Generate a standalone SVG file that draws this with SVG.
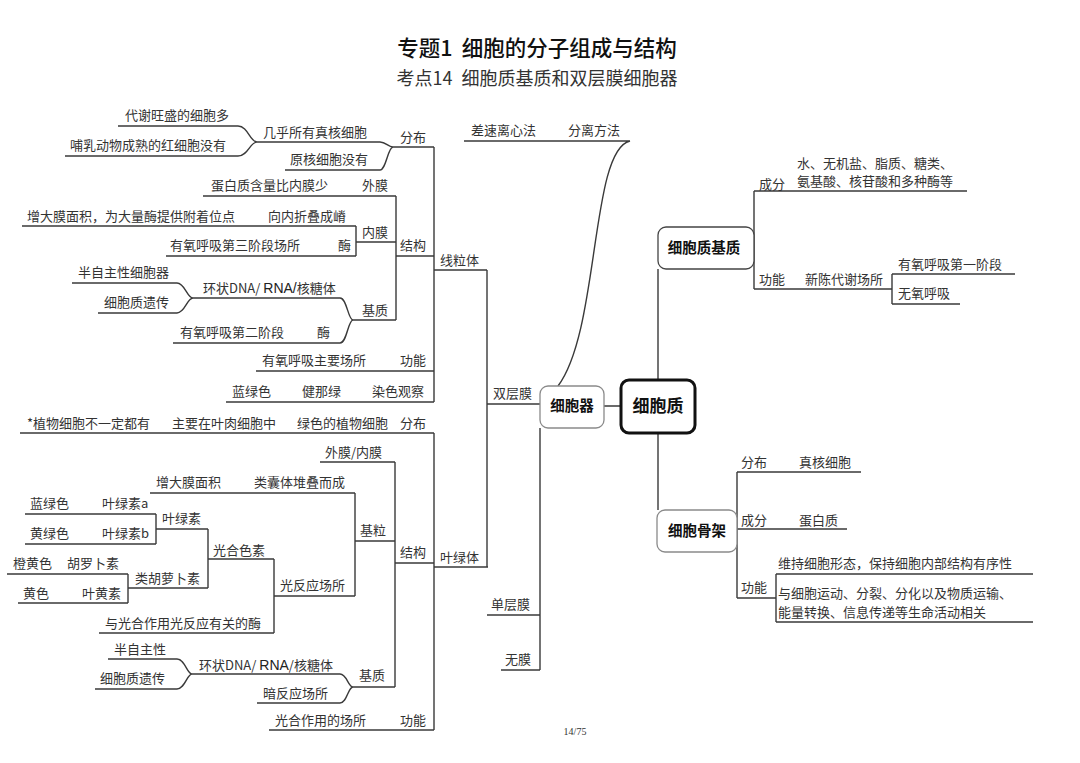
<svg xmlns="http://www.w3.org/2000/svg" width="1080" height="763" viewBox="0 0 1080 763">
<style>
.t{font-family:"Noto Sans CJK SC","Noto Sans",sans-serif;font-size:13px;fill:#333}
.n{font-family:"Noto Sans CJK SC","Noto Sans",sans-serif;font-weight:bold;fill:#111;text-anchor:middle}
.l{fill:none;stroke:#3a3a3a;stroke-width:1.4}
.box{fill:#fff;stroke:#8a8a8a;stroke-width:1.3}
.sans{font-family:"Liberation Sans",sans-serif;font-size:14px;fill:#222}
</style>
<rect width="1080" height="763" fill="#fff"/>
<g id="title">
<text x="537" y="56" style="font-family:'Noto Sans CJK SC',sans-serif;font-size:21.5px;font-weight:500;fill:#111" text-anchor="middle">专题1<tspan dx="9">细胞的分子组成与结构</tspan></text>
<text x="537" y="85" style="font-family:'Noto Sans CJK SC',sans-serif;font-size:18px;fill:#333" text-anchor="middle">考点14<tspan dx="9">细胞质基质和双层膜细胞器</tspan></text>
</g>
<g id="connectors">
<path class="l" d="M604,406 H621 M658,269 V380 M658,433 V510"/>
<path class="l" d="M464,141 H630 C590,150 600,330 558,386"/>
<path class="l" d="M487,270 V567 M487,404 H540 M540,428 V670 M487,615 H540 M501,670 H540"/>
<path class="l" d="M434,270 H487 M434,147 V402"/>
<path class="l" d="M118,126 H238 C248,126 250,142 257,142 M65,156 H238 C248,156 250,142 257,142"/>
<path class="l" d="M257,142 H380 C386,142 388,147 393,147 M285,170 H380 C386,170 388,147 393,147 M393,147 H434"/>
<path class="l" d="M396,256 H434 M396,196 V320 M203,196 H396"/>
<path class="l" d="M356,226 V256 M22,226 H356 M166,256 H356 M356,242 H396"/>
<path class="l" d="M353,320 H396 M193,298 H340 C347,298 348,320 353,320 M173,343 H340 C347,343 348,320 353,320"/>
<path class="l" d="M72,283 H177 C185,283 187,298 193,298 M98,313 H177 C185,313 187,298 193,298"/>
<path class="l" d="M256,371 H434 M226,402 H434"/>
<path class="l" d="M20,433 H434 M434,433 V730 M434,567 H488 M395,563 H434 M395,462 V687 M320,462 H395"/>
<path class="l" d="M355,541 H395 M355,493 V596 M150,493 H355"/>
<path class="l" d="M274,596 H355 M274,559 V633 M99,633 H274"/>
<path class="l" d="M208,559 H274 M208,529 V588 M156,529 H208 M156,514 V544 M25,514 H156 M25,544 H156"/>
<path class="l" d="M128,588 H208 M128,574 V603 M7,574 H128 M18,603 H128"/>
<path class="l" d="M353,687 H395 M192,674 H340 C347,674 348,687 353,687 M257,703 H340 C347,703 348,687 353,687"/>
<path class="l" d="M108,659 H177 C185,659 187,674 192,674 M95,689 H177 C185,689 187,674 192,674"/>
<path class="l" d="M269,730 H434"/>
<path class="l" d="M754,191 V289 M754,191 H967 M754,289 H892 M892,274 V304 M892,274 H1015 M892,304 H960"/>
<path class="l" d="M737,472 V598 M737,472 H861 M737,529 H847 M737,598 H776 M776,574 V622 M776,574 H1033 M776,622 H1033"/>
</g>
<g id="node-xibaozhi">
<rect x="621" y="380" width="74" height="53" rx="8" fill="#fff" stroke="#111" stroke-width="3"/>
<text class="n" x="658" y="412" font-size="17">细胞质</text>
</g>
<g id="node-xibaoqi">
<rect class="box" x="540" y="386" width="64" height="42" rx="8"/>
<text class="n" x="572" y="411" font-size="14.5">细胞器</text>
</g>
<g id="node-jizhi">
<rect class="box" x="658" y="227" width="96" height="42" rx="8" style="stroke:#444"/>
<text class="n" x="704" y="253" font-size="14.5">细胞质基质</text>
</g>
<g id="node-gujia">
<rect class="box" x="657" y="510" width="80" height="42" rx="8"/>
<text class="n" x="697" y="536" font-size="14.5">细胞骨架</text>
</g>
<g id="center-labels">
<text class="t" x="471" y="135">差速离心法</text>
<text class="t" x="568" y="135">分离方法</text>
<text class="t" x="493" y="398">双层膜</text>
<text class="t" x="491" y="609">单层膜</text>
<text class="t" x="505" y="664">无膜</text>
<text class="t" x="440" y="265">线粒体</text>
<text class="t" x="440" y="562">叶绿体</text>
</g>
<g id="mitochondria">
<text class="t" x="125" y="120">代谢旺盛的细胞多</text>
<text class="t" x="70" y="150">哺乳动物成熟的红细胞没有</text>
<text class="t" x="263" y="137">几乎所有真核细胞</text>
<text class="t" x="290" y="164">原核细胞没有</text>
<text class="t" x="400" y="142">分布</text>
<text class="t" x="211" y="190">蛋白质含量比内膜少</text>
<text class="t" x="362" y="190">外膜</text>
<text class="t" x="27" y="221">增大膜面积，为大量酶提供附着位点</text>
<text class="t" x="268" y="221">向内折叠成嵴</text>
<text class="t" x="362" y="237">内膜</text>
<text class="t" x="170" y="250">有氧呼吸第三阶段场所</text>
<text class="t" x="338" y="250">酶</text>
<text class="t" x="400" y="250">结构</text>
<text class="t" x="78" y="277">半自主性细胞器</text>
<text class="t" x="203" y="293">环状DNA/ <tspan class="sans">RNA/</tspan>核糖体</text>
<text class="t" x="104" y="307">细胞质遗传</text>
<text class="t" x="362" y="315">基质</text>
<text class="t" x="180" y="337">有氧呼吸第二阶段</text>
<text class="t" x="317" y="337">酶</text>
<text class="t" x="262" y="365">有氧呼吸主要场所</text>
<text class="t" x="400" y="365">功能</text>
<text class="t" x="232" y="396">蓝绿色</text>
<text class="t" x="302" y="396">健那绿</text>
<text class="t" x="372" y="396">染色观察</text>
</g>
<g id="chloroplast">
<text class="t" x="27" y="428">*植物细胞不一定都有</text>
<text class="t" x="172" y="428">主要在叶肉细胞中</text>
<text class="t" x="297" y="428">绿色的植物细胞</text>
<text class="t" x="400" y="428">分布</text>
<text class="t" x="325" y="457">外膜/内膜</text>
<text class="t" x="156" y="487">增大膜面积</text>
<text class="t" x="254" y="487">类囊体堆叠而成</text>
<text class="t" x="30" y="508">蓝绿色</text>
<text class="t" x="102" y="508">叶绿素a</text>
<text class="t" x="162" y="523">叶绿素</text>
<text class="t" x="360" y="535">基粒</text>
<text class="t" x="30" y="538">黄绿色</text>
<text class="t" x="102" y="538">叶绿素b</text>
<text class="t" x="213" y="555">光合色素</text>
<text class="t" x="400" y="557">结构</text>
<text class="t" x="13" y="568">橙黄色</text>
<text class="t" x="67" y="568">胡罗卜素</text>
<text class="t" x="135" y="583">类胡萝卜素</text>
<text class="t" x="280" y="590">光反应场所</text>
<text class="t" x="23" y="598">黄色</text>
<text class="t" x="82" y="598">叶黄素</text>
<text class="t" x="105" y="628">与光合作用光反应有关的酶</text>
<text class="t" x="114" y="654">半自主性</text>
<text class="t" x="199" y="670">环状DNA/ <tspan class="sans">RNA</tspan>/核糖体</text>
<text class="t" x="359" y="680">基质</text>
<text class="t" x="100" y="683">细胞质遗传</text>
<text class="t" x="263" y="698">暗反应场所</text>
<text class="t" x="275" y="725">光合作用的场所</text>
<text class="t" x="400" y="725">功能</text>
</g>
<g id="matrix-branch">
<text class="t" x="759" y="189">成分</text>
<text class="t" x="797" y="168">水、无机盐、脂质、糖类、</text>
<text class="t" x="797" y="186">氨基酸、核苷酸和多种酶等</text>
<text class="t" x="759" y="284">功能</text>
<text class="t" x="805" y="284">新陈代谢场所</text>
<text class="t" x="898" y="269">有氧呼吸第一阶段</text>
<text class="t" x="898" y="298">无氧呼吸</text>
</g>
<g id="cytoskeleton-branch">
<text class="t" x="741" y="467">分布</text>
<text class="t" x="799" y="467">真核细胞</text>
<text class="t" x="741" y="525">成分</text>
<text class="t" x="799" y="525">蛋白质</text>
<text class="t" x="741" y="592">功能</text>
<text class="t" x="778" y="568">维持细胞形态，保持细胞内部结构有序性</text>
<text class="t" x="778" y="598">与细胞运动、分裂、分化以及物质运输、</text>
<text class="t" x="778" y="617">能量转换、信息传递等生命活动相关</text>
</g>
<text x="575" y="735" text-anchor="middle" style="font-family:'Liberation Serif',serif;font-size:10px;fill:#333">14/75</text>
</svg>
